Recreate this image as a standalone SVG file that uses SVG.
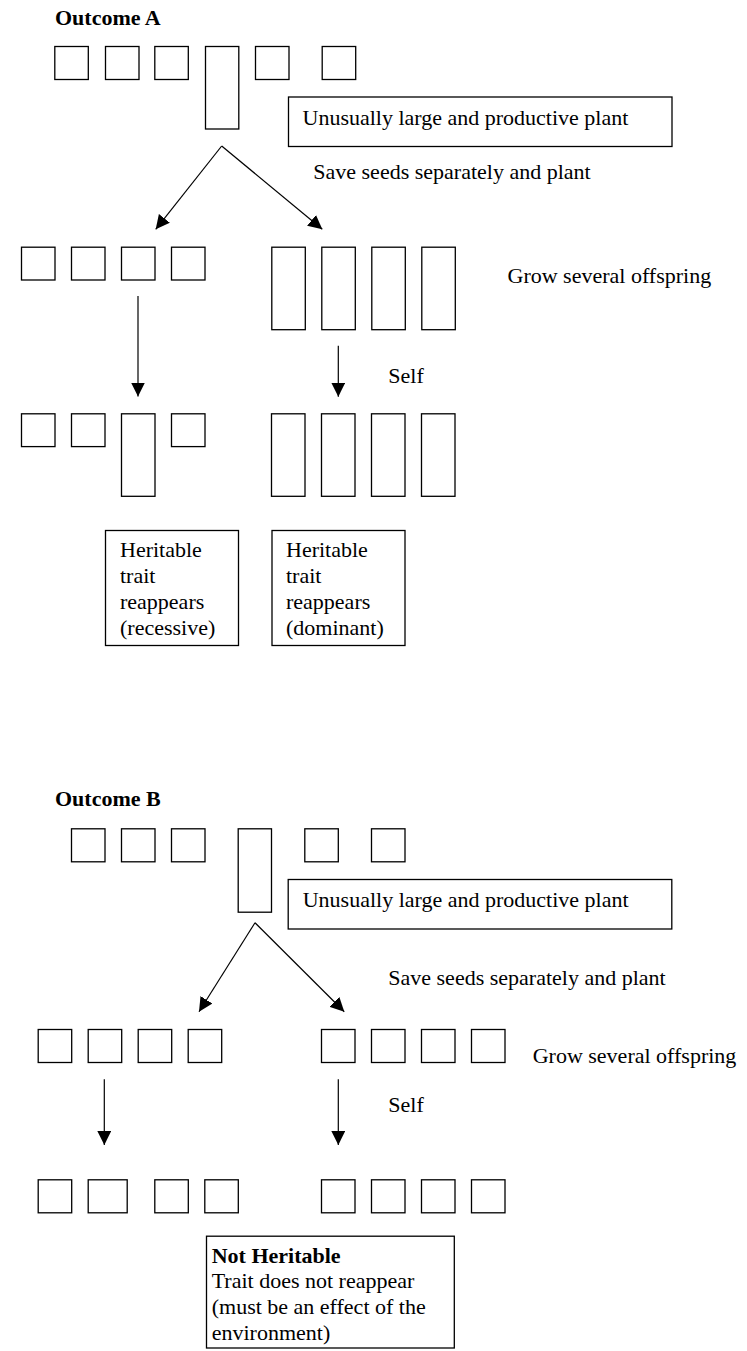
<svg xmlns="http://www.w3.org/2000/svg" width="747" height="1351" viewBox="0 0 747 1351">
  <style>
    .plant { fill: none; stroke: #000; stroke-width: 1.3; }
    .box { fill: #fff; stroke: #000; stroke-width: 1.3; }
    .t { font-family: "Liberation Serif", "Times New Roman", serif; font-size: 22px; fill: #000; }
    .b { font-weight: bold; }
    .conn { fill: none; stroke: #000; stroke-width: 1.2; marker-end: url(#arrow); }
  </style>
  <defs>
    <marker id="arrow" markerUnits="userSpaceOnUse" markerWidth="14" markerHeight="14" viewBox="0 0 14 14" refX="14" refY="7" orient="auto">
      <path d="M0,0 L14,7 L0,14 z" fill="#000"/>
    </marker>
  </defs>
  <rect width="747" height="1351" fill="#fff"/>

  <!-- ===== Outcome A ===== -->
  <text class="t b" x="55" y="25">Outcome A</text>

  <g id="a-parents">
    <rect class="plant" x="54.8" y="46.5" width="33.5" height="33"/>
    <rect class="plant" x="105.5" y="46.5" width="33.5" height="33"/>
    <rect class="plant" x="154.8" y="46.5" width="33.5" height="33"/>
    <rect class="plant" x="205.5" y="46.5" width="33.3" height="82.5"/>
    <rect class="plant" x="255.5" y="46.5" width="33.5" height="33"/>
    <rect class="plant" x="322.2" y="46.5" width="33.5" height="33"/>
  </g>

  <g id="a-large-plant">
    <rect class="box" x="288.5" y="97" width="383.5" height="49.5"/>
    <text class="t" x="302.5" y="125">Unusually large and productive plant</text>
  </g>

  <text id="a-save" class="t" x="313.3" y="179.3">Save seeds separately and plant</text>
  <text id="a-grow" class="t" x="507.5" y="283">Grow several offspring</text>
  <text id="a-self" class="t" x="388.3" y="383.3">Self</text>

  <g id="a-offspring-left">
    <rect class="plant" x="21.5" y="247.2" width="33.5" height="32.8"/>
    <rect class="plant" x="71.5" y="247.2" width="33.5" height="32.8"/>
    <rect class="plant" x="121.5" y="247.2" width="33.5" height="32.8"/>
    <rect class="plant" x="171.5" y="247.2" width="33.5" height="32.8"/>
  </g>
  <g id="a-offspring-right">
    <rect class="plant" x="271.8" y="247.2" width="33.5" height="82.5"/>
    <rect class="plant" x="321.8" y="247.2" width="33.5" height="82.5"/>
    <rect class="plant" x="371.8" y="247.2" width="33.5" height="82.5"/>
    <rect class="plant" x="421.8" y="247.2" width="33.5" height="82.5"/>
  </g>

  <g id="a-selfed-left">
    <rect class="plant" x="21.5" y="413.8" width="33.5" height="32.8"/>
    <rect class="plant" x="71.5" y="413.8" width="33.5" height="32.8"/>
    <rect class="plant" x="121.5" y="413.8" width="33.5" height="82.5"/>
    <rect class="plant" x="171.5" y="413.8" width="33.5" height="32.8"/>
  </g>
  <g id="a-selfed-right">
    <rect class="plant" x="271.5" y="413.8" width="33.5" height="82.5"/>
    <rect class="plant" x="321.5" y="413.8" width="33.5" height="82.5"/>
    <rect class="plant" x="371.5" y="413.8" width="33.5" height="82.5"/>
    <rect class="plant" x="421.5" y="413.8" width="33.5" height="82.5"/>
  </g>

  <g id="a-recessive">
    <rect class="box" x="105.5" y="530.5" width="133" height="115"/>
    <text class="t" x="120">
      <tspan x="120" y="557.3">Heritable</tspan>
      <tspan x="120" y="583.3">trait</tspan>
      <tspan x="120" y="609.3">reappears</tspan>
      <tspan x="120" y="635.3">(recessive)</tspan>
    </text>
  </g>
  <g id="a-dominant">
    <rect class="box" x="272" y="530.5" width="133" height="115"/>
    <text class="t" x="286">
      <tspan x="286" y="557.3">Heritable</tspan>
      <tspan x="286" y="583.3">trait</tspan>
      <tspan x="286" y="609.3">reappears</tspan>
      <tspan x="286" y="635.3">(dominant)</tspan>
    </text>
  </g>

  <!-- ===== Outcome B ===== -->
  <text class="t b" x="55" y="806">Outcome B</text>

  <g id="b-parents">
    <rect class="plant" x="71.5" y="828.8" width="33.5" height="33"/>
    <rect class="plant" x="121.5" y="828.8" width="33.5" height="33"/>
    <rect class="plant" x="171.5" y="828.8" width="33.5" height="33"/>
    <rect class="plant" x="238.2" y="828.8" width="33.3" height="83.4"/>
    <rect class="plant" x="304.8" y="828.8" width="33.5" height="33"/>
    <rect class="plant" x="371.5" y="828.8" width="33.5" height="33"/>
  </g>

  <g id="b-large-plant">
    <rect class="box" x="288.2" y="879.5" width="383.6" height="49.5"/>
    <text class="t" x="302.7" y="907">Unusually large and productive plant</text>
  </g>

  <text id="b-save" class="t" x="388.3" y="985">Save seeds separately and plant</text>
  <text id="b-grow" class="t" x="532.7" y="1062.6">Grow several offspring</text>
  <text id="b-self" class="t" x="388.3" y="1112.3">Self</text>

  <g id="b-offspring-left">
    <rect class="plant" x="38.2" y="1029.5" width="33.5" height="33"/>
    <rect class="plant" x="88.2" y="1029.5" width="33.5" height="33"/>
    <rect class="plant" x="138.2" y="1029.5" width="33.5" height="33"/>
    <rect class="plant" x="188.2" y="1029.5" width="33.5" height="33"/>
  </g>
  <g id="b-offspring-right">
    <rect class="plant" x="321.5" y="1029.5" width="33.5" height="33"/>
    <rect class="plant" x="371.5" y="1029.5" width="33.5" height="33"/>
    <rect class="plant" x="421.5" y="1029.5" width="33.5" height="33"/>
    <rect class="plant" x="471.5" y="1029.5" width="33.5" height="33"/>
  </g>

  <g id="b-selfed-left">
    <rect class="plant" x="38.2" y="1179.8" width="33.5" height="33"/>
    <rect class="plant" x="88.2" y="1179.8" width="39" height="33"/>
    <rect class="plant" x="154.8" y="1179.8" width="33.5" height="33"/>
    <rect class="plant" x="204.8" y="1179.8" width="33.5" height="33"/>
  </g>
  <g id="b-selfed-right">
    <rect class="plant" x="321.5" y="1179.8" width="33.5" height="33"/>
    <rect class="plant" x="371.5" y="1179.8" width="33.5" height="33"/>
    <rect class="plant" x="421.5" y="1179.8" width="33.5" height="33"/>
    <rect class="plant" x="471.5" y="1179.8" width="33.5" height="33"/>
  </g>

  <g id="b-not-heritable">
    <rect class="box" x="206.5" y="1236.2" width="247.8" height="111.8"/>
    <text class="t" x="211.7">
      <tspan class="b" x="211.7" y="1262.7">Not Heritable</tspan>
      <tspan x="211.7" y="1288.3">Trait does not reappear</tspan>
      <tspan x="211.7" y="1314">(must be an effect of the</tspan>
      <tspan x="211.7" y="1339.7">environment)</tspan>
    </text>
  </g>

  <!-- connectors -->
  <g id="connectors">
    <path class="conn" d="M221.7,146 L155.7,229.3"/>
    <path class="conn" d="M221.7,146 L322.3,229.3"/>
    <path class="conn" d="M138,296 L138,396.5"/>
    <path class="conn" d="M338.3,345.7 L338.3,396.7"/>
    <path class="conn" d="M255,922.7 L199,1011.7"/>
    <path class="conn" d="M255,922.7 L344.3,1011.7"/>
    <path class="conn" d="M104.3,1079.3 L104.3,1145"/>
    <path class="conn" d="M338.3,1079.3 L338.3,1145"/>
  </g>
</svg>
